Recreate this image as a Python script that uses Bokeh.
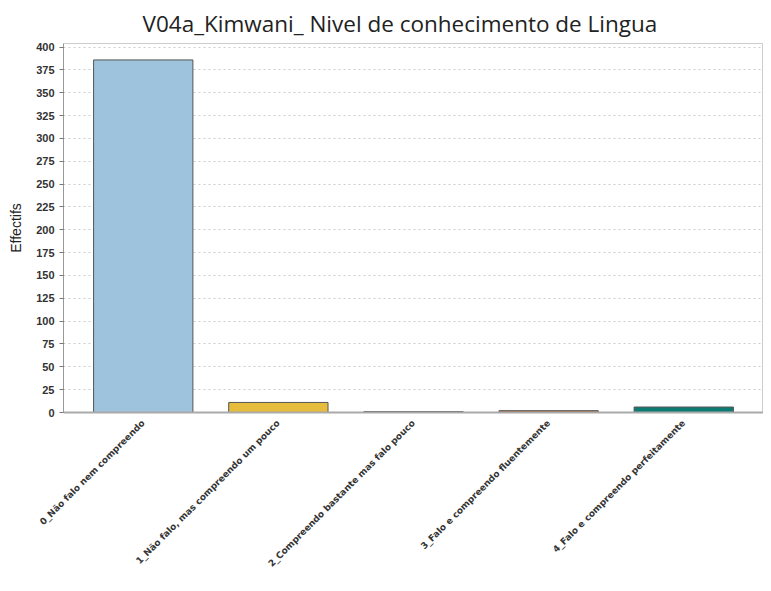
from bokeh.plotting import figure
from bokeh.models import FactorRange, Title, SingleIntervalTicker, Spacer, ColumnDataSource
from bokeh.layouts import row
from bokeh.embed import file_html
from bokeh.resources import INLINE

categories = [
    "0_Não falo nem compreendo",
    "1_Não falo, mas compreendo um pouco",
    "2_Compreendo bastante mas falo pouco",
    "3_Falo e compreendo fluentemente",
    "4_Falo e compreendo perfeitamente",
]
counts = [386, 11, 1, 2, 6]
colors = ["#9DC3DD", "#E6BC3C", "#6A6A6A", "#B5662C", "#0E7B73"]

source = ColumnDataSource(dict(cat=categories, n=counts, color=colors))

p = figure(
    width=758, height=575,
    x_range=FactorRange(*categories, range_padding=0.09, range_padding_units="absolute"),
    y_range=(0, 404),
    output_backend="svg", toolbar_location=None,
    min_border_left=5, min_border_right=0, min_border_top=9, min_border_bottom=0,
)

p.vbar(x="cat", top="n", width=0.735, source=source,
       fill_color="color", line_color="#555555", line_width=1)

t = Title(text="V04a_Kimwani_ Nivel de conhecimento de Lingua", align="left",
          offset=79, text_font="Open Sans", text_font_size="22.5px",
          text_font_style="normal", text_color="#222222")
p.add_layout(t, "above")

p.yaxis.axis_label = "Effectifs"
p.yaxis.axis_label_text_font = "Liberation Sans"
p.yaxis.axis_label_text_font_size = "14px"
p.yaxis.axis_label_text_font_style = "normal"
p.yaxis.axis_label_text_color = "#222222"
p.yaxis.axis_label_standoff = 9
p.yaxis.ticker = SingleIntervalTicker(interval=25)
p.yaxis.major_label_text_font = "Liberation Sans"
p.yaxis.major_label_text_font_size = "11px"
p.yaxis.major_label_text_font_style = "bold"
p.yaxis.major_label_text_color = "#333333"
p.yaxis.axis_line_color = "#999999"
p.yaxis.major_tick_line_color = "#777777"
p.yaxis.major_tick_in = 0
p.yaxis.major_tick_out = 4
p.yaxis.minor_tick_line_color = None

p.xaxis.major_label_orientation = 0.785398
p.xaxis.major_label_text_font = "DejaVu Sans"
p.xaxis.major_label_text_font_size = "9px"
p.xaxis.major_label_text_font_style = "bold"
p.xaxis.major_label_text_color = "#333333"
p.xaxis.major_label_standoff = 3
p.xaxis.axis_line_color = "#aaaaaa"
p.xaxis.axis_line_width = 2
p.xaxis.major_tick_line_color = None
p.xaxis.minor_tick_line_color = None

p.xgrid.grid_line_color = None
p.ygrid.grid_line_color = "#cccccc"
p.ygrid.grid_line_dash = "2 3"

p.outline_line_color = "#cccccc"
p.outline_line_width = 1
p.background_fill_color = "white"
p.border_fill_color = "white"

layout = row(Spacer(width=5, height=575), p)
open("out.html", "w").write(file_html(layout, INLINE))
